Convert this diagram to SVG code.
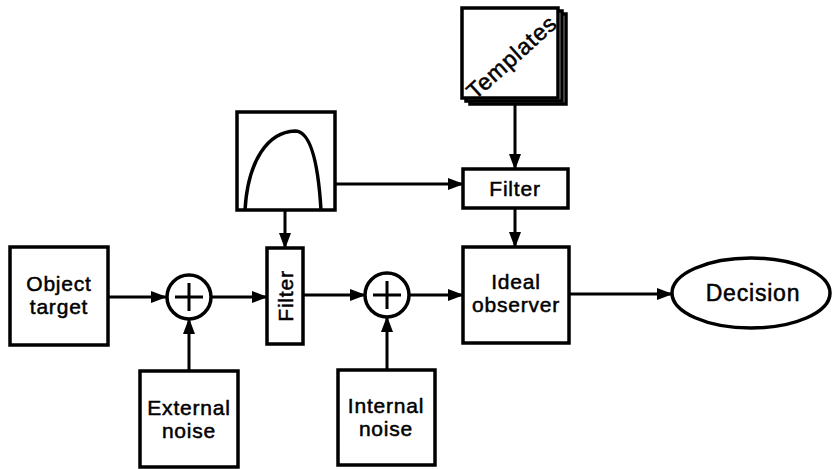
<svg xmlns="http://www.w3.org/2000/svg" width="834" height="469" viewBox="0 0 834 469">
<defs>
<marker id="ah" markerWidth="16" markerHeight="12" refX="15" refY="6" orient="auto" markerUnits="userSpaceOnUse">
<path d="M0,0 L16,6 L0,12 Z" fill="#000"/>
</marker>
</defs>
<style>
.b{fill:#fff;stroke:#000;stroke-width:3.5}
.t{font-family:"Liberation Sans",Arial,sans-serif;font-size:21px;letter-spacing:0.8px;fill:#000;stroke:#000;stroke-width:0.5;text-anchor:middle}
.c{fill:none;stroke:#000;stroke-width:3}
</style>
<rect width="834" height="469" fill="#fff"/>
<g id="connectors">
<line class="c" x1="108" y1="297" x2="166" y2="297" marker-end="url(#ah)"/>
<line class="c" x1="210" y1="297" x2="267" y2="297" marker-end="url(#ah)"/>
<line class="c" x1="189" y1="371" x2="189" y2="319" marker-end="url(#ah)"/>
<line class="c" x1="285" y1="210" x2="285" y2="248" marker-end="url(#ah)"/>
<line class="c" x1="335" y1="184" x2="463" y2="184" marker-end="url(#ah)"/>
<line class="c" x1="303" y1="295" x2="365" y2="295" marker-end="url(#ah)"/>
<line class="c" x1="409" y1="295" x2="463" y2="295" marker-end="url(#ah)"/>
<line class="c" x1="387" y1="370" x2="387" y2="317" marker-end="url(#ah)"/>
<line class="c" x1="515" y1="104" x2="515" y2="169" marker-end="url(#ah)"/>
<line class="c" x1="515" y1="208" x2="515" y2="247" marker-end="url(#ah)"/>
<line class="c" x1="569" y1="294" x2="672" y2="294" marker-end="url(#ah)"/>
</g>
<g id="object-target">
<rect class="b" x="10" y="247" width="98" height="98"/>
<text class="t" x="59" y="291">Object</text>
<text class="t" x="59" y="314">target</text>
</g>
<g id="sum1">
<circle class="b" cx="189" cy="297" r="22"/>
<path d="M175,297 H203 M189,283 V311" stroke="#000" stroke-width="3" fill="none"/>
</g>
<g id="external-noise">
<rect class="b" x="140" y="371" width="98" height="96"/>
<text class="t" x="189" y="415">External</text>
<text class="t" x="189" y="438">noise</text>
</g>
<g id="filter-plot">
<rect class="b" x="237" y="112" width="98" height="98"/>
<path d="M245,210 C248,160 268,132 295,131 C310,131 318,160 321,210" fill="none" stroke="#000" stroke-width="3.5"/>
</g>
<g id="filter1">
<rect class="b" x="267" y="248" width="36" height="96"/>
<text class="t" transform="translate(293,296) rotate(-90)">Filter</text>
</g>
<g id="sum2">
<circle class="b" cx="387" cy="295" r="22"/>
<path d="M373,295 H401 M387,281 V309" stroke="#000" stroke-width="3" fill="none"/>
</g>
<g id="internal-noise">
<rect class="b" x="338" y="370" width="97" height="95"/>
<text class="t" x="386" y="413">Internal</text>
<text class="t" x="386" y="436">noise</text>
</g>
<g id="templates">
<rect class="b" x="470" y="14" width="96" height="90" stroke-width="2.5"/>
<rect class="b" x="466" y="11" width="96" height="90" stroke-width="2.5"/>
<rect class="b" x="462" y="8" width="96" height="90"/>
<text class="t" style="font-size:23px" transform="translate(517,63) rotate(-42)">Templates</text>
</g>
<g id="filter2">
<rect class="b" x="463" y="169" width="105" height="39"/>
<text class="t" x="515" y="196">Filter</text>
</g>
<g id="ideal-observer">
<rect class="b" x="463" y="247" width="106" height="96"/>
<text class="t" x="516" y="289">Ideal</text>
<text class="t" x="516" y="312">observer</text>
</g>
<g id="decision">
<ellipse class="b" cx="751" cy="293" rx="79" ry="35"/>
<text class="t" style="font-size:23px" x="753" y="301">Decision</text>
</g>
</svg>
